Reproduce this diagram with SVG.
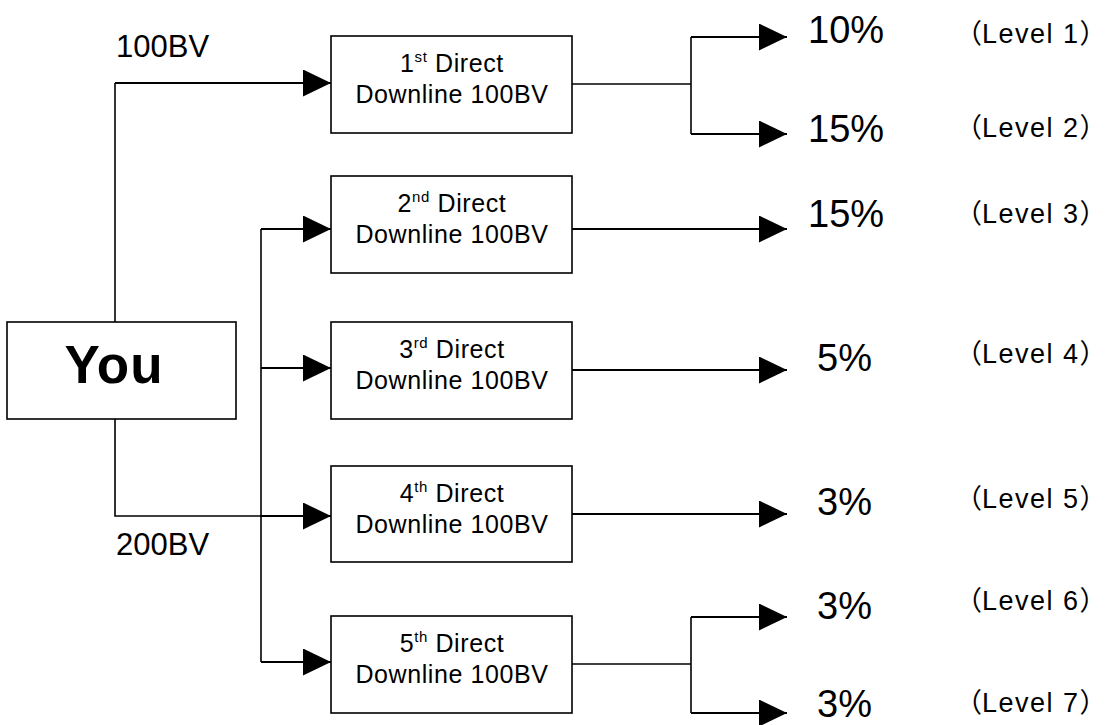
<svg xmlns="http://www.w3.org/2000/svg" width="1108" height="725" viewBox="0 0 1108 725">
<defs>
<style>
.box{fill:#fff;stroke:#000;stroke-width:1.6}
.t{font-family:"Liberation Sans",Arial,sans-serif;fill:#000}
.bt{font-size:25px;text-anchor:middle;letter-spacing:0.6px}
.sup{font-size:15px}
.bv{font-size:31px}
.pct{font-size:38px}
.lvl{font-size:27px;font-family:"Liberation Sans","Noto Sans CJK SC",sans-serif}
.sp{letter-spacing:1.5px}
.ln{fill:none;stroke:#000;stroke-width:1.6}
.lk{fill:none;stroke:#000;stroke-width:2.2}
</style>
<marker id="ah" markerUnits="userSpaceOnUse" viewBox="0 0 28 27" refX="28" refY="13.5" markerWidth="28" markerHeight="27" orient="auto">
<path d="M0,0 L28,13.5 L0,27 Z" fill="#000"/>
</marker>
</defs>
<rect width="1108" height="725" fill="#fff"/>

<g id="connectors">
<path class="ln" d="M115,322 V83"/>
<path class="lk" d="M115,83 H331" marker-end="url(#ah)"/>
<path class="ln" d="M115,419 V516 H261"/>
<path class="ln" d="M261,229 V662"/>
<path class="lk" d="M261,229 H331" marker-end="url(#ah)"/>
<path class="lk" d="M261,368 H331" marker-end="url(#ah)"/>
<path class="lk" d="M261,516 H331" marker-end="url(#ah)"/>
<path class="lk" d="M261,662 H331" marker-end="url(#ah)"/>
<path class="ln" d="M572,84 H691"/>
<path class="ln" d="M691,37 V134"/>
<path class="lk" d="M691,37 H787" marker-end="url(#ah)"/>
<path class="lk" d="M691,134 H787" marker-end="url(#ah)"/>
<path class="lk" d="M572,229 H787" marker-end="url(#ah)"/>
<path class="lk" d="M572,370 H787" marker-end="url(#ah)"/>
<path class="lk" d="M572,514 H787" marker-end="url(#ah)"/>
<path class="ln" d="M572,664 H691"/>
<path class="ln" d="M691,617 V713"/>
<path class="lk" d="M691,617 H787" marker-end="url(#ah)"/>
<path class="lk" d="M691,713 H787" marker-end="url(#ah)"/>
</g>

<g id="you">
<rect class="box" x="7" y="322" width="229" height="97"/>
<text class="t" x="114" y="383" font-size="53" font-weight="bold" text-anchor="middle" letter-spacing="1">You</text>
</g>

<g id="d1">
<rect class="box" x="331" y="36" width="241" height="97"/>
<text class="t bt" x="452" y="72">1<tspan class="sup" dy="-10">st</tspan><tspan dy="10"> Direct</tspan></text>
<text class="t bt" x="452" y="103">Downline 100BV</text>
</g>
<g id="d2">
<rect class="box" x="331" y="176" width="241" height="97"/>
<text class="t bt" x="452" y="212">2<tspan class="sup" dy="-10">nd</tspan><tspan dy="10"> Direct</tspan></text>
<text class="t bt" x="452" y="243">Downline 100BV</text>
</g>
<g id="d3">
<rect class="box" x="331" y="322" width="241" height="97"/>
<text class="t bt" x="452" y="358">3<tspan class="sup" dy="-10">rd</tspan><tspan dy="10"> Direct</tspan></text>
<text class="t bt" x="452" y="389">Downline 100BV</text>
</g>
<g id="d4">
<rect class="box" x="331" y="466" width="241" height="96"/>
<text class="t bt" x="452" y="502">4<tspan class="sup" dy="-10">th</tspan><tspan dy="10"> Direct</tspan></text>
<text class="t bt" x="452" y="533">Downline 100BV</text>
</g>
<g id="d5">
<rect class="box" x="331" y="616" width="241" height="97"/>
<text class="t bt" x="452" y="652">5<tspan class="sup" dy="-10">th</tspan><tspan dy="10"> Direct</tspan></text>
<text class="t bt" x="452" y="683">Downline 100BV</text>
</g>

<g id="labels">
<text class="t bv" x="116" y="57">100BV</text>
<text class="t bv" x="116" y="555">200BV</text>
<text class="t pct" x="808" y="43">10%</text>
<text class="t pct" x="808" y="142">15%</text>
<text class="t pct" x="808" y="227">15%</text>
<text class="t pct" x="817" y="371">5%</text>
<text class="t pct" x="817" y="515">3%</text>
<text class="t pct" x="817" y="619">3%</text>
<text class="t pct" x="817" y="717">3%</text>
<text class="t lvl" x="955" y="43">（<tspan class="sp">Level 1</tspan>）</text>
<text class="t lvl" x="955" y="137">（<tspan class="sp">Level 2</tspan>）</text>
<text class="t lvl" x="955" y="223">（<tspan class="sp">Level 3</tspan>）</text>
<text class="t lvl" x="955" y="363">（<tspan class="sp">Level 4</tspan>）</text>
<text class="t lvl" x="955" y="508">（<tspan class="sp">Level 5</tspan>）</text>
<text class="t lvl" x="955" y="610">（<tspan class="sp">Level 6</tspan>）</text>
<text class="t lvl" x="955" y="712">（<tspan class="sp">Level 7</tspan>）</text>
</g>
</svg>
